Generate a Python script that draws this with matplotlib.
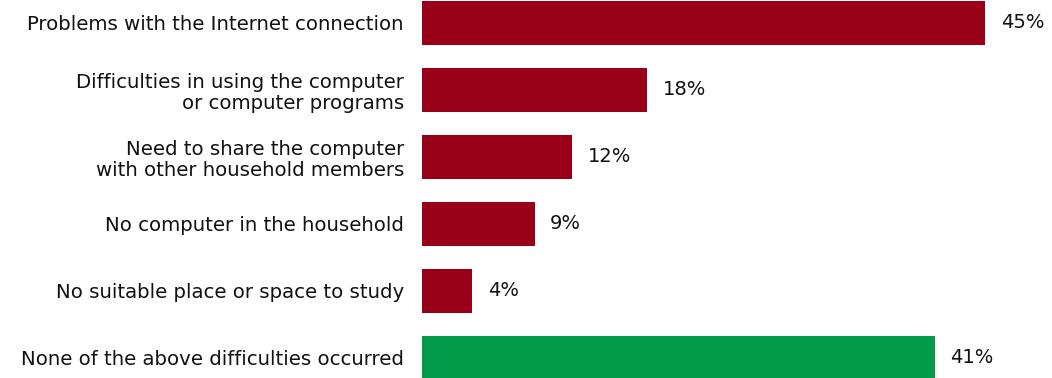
import matplotlib
matplotlib.use("Agg")
import matplotlib.pyplot as plt

categories = [
    "Problems with the Internet connection",
    "Difficulties in using the computer\nor computer programs",
    "Need to share the computer\nwith other household members",
    "No computer in the household",
    "No suitable place or space to study",
    "None of the above difficulties occurred",
]
values = [45, 18, 12, 9, 4, 41]
bar_colors = ["#990017", "#990017", "#990017", "#990017", "#990017", "#009A49"]

fig = plt.figure(figsize=(10.52, 3.78), dpi=100)
ax = fig.add_axes([422 / 1052, 0, 630 / 1052, 1])

pos = list(range(len(categories)))
ax.barh(pos, values, height=0.655, color=bar_colors, edgecolor="none")
ax.set_xlim(0, 630 / 12.51)
ax.set_ylim(5.299, -0.343)

for y, v in zip(pos, values):
    ax.text(v + 1.25, y, f"{v}%", va="center", ha="left",
            fontsize=14, family="DejaVu Sans", color="#111111")

ax.set_yticks(pos)
ax.set_yticklabels(categories, fontsize=14.2, family="DejaVu Sans",
                   color="#111111", linespacing=1.12, ha="right")
ax.tick_params(axis="y", length=0, pad=13)
ax.set_xticks([])
for s in ax.spines.values():
    s.set_visible(False)

fig.savefig("out.png", dpi=100)
